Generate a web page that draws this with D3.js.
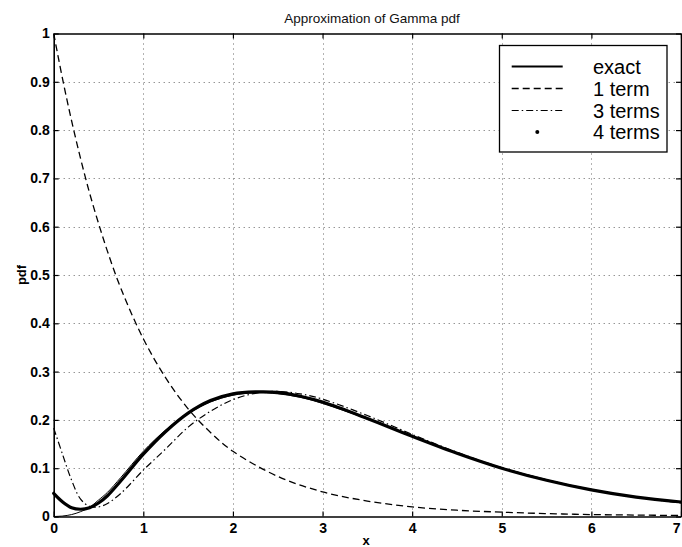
<!DOCTYPE html>
<html>
<head>
<meta charset="utf-8">
<script src="https://cdn.jsdelivr.net/npm/d3@7/dist/d3.min.js"></script>
<style>
  html, body { margin: 0; padding: 0; background: #fff; }
  svg { display: block; font-family: "Liberation Sans", Arial, Helvetica, sans-serif; }
</style>
</head>
<body>
<svg id="chart" width="682" height="547"></svg>
<script>
// ---- data ----
const xTicks = [0, 1, 2, 3, 4, 5, 6, 7];
const xTickLabels = ["0", "1", "2", "3", "4", "5", "6", "7"];
const yTicks = [0, 0.1, 0.2, 0.3, 0.4, 0.5, 0.6, 0.7, 0.8, 0.9, 1];
const yTickLabels = ["0", "0.1", "0.2", "0.3", "0.4", "0.5", "0.6", "0.7", "0.8", "0.9", "1"];

const xs = [0, 0.1, 0.2, 0.3, 0.4, 0.5, 0.6, 0.75, 1, 1.25, 1.5, 1.75, 2, 2.25, 2.5, 2.75, 3, 3.5, 4, 4.5, 5, 5.5, 6, 6.5, 7];
const exactY = [0, 0.001, 0.004, 0.010, 0.019, 0.034, 0.050, 0.081, 0.135, 0.179, 0.213, 0.237, 0.251, 0.256, 0.254, 0.247, 0.234, 0.202, 0.166, 0.131, 0.101, 0.076, 0.056, 0.040, 0.029];
const terms4Y = [0.048, 0.030, 0.018, 0.015, 0.018, 0.028, 0.043, 0.074, 0.129, 0.176, 0.214, 0.240, 0.254, 0.258, 0.257, 0.249, 0.237, 0.203, 0.166, 0.131, 0.100, 0.075, 0.055, 0.040, 0.030];
const terms3Y = [0.183, 0.128, 0.075, 0.036, 0.021, 0.020, 0.027, 0.048, 0.096, 0.140, 0.185, 0.218, 0.242, 0.255, 0.259, 0.254, 0.243, 0.209, 0.170, 0.133, 0.101, 0.076, 0.055, 0.040, 0.028];

const xs1 = [0, 0.1, 0.2, 0.3, 0.4, 0.5, 0.6, 0.75, 1, 1.25, 1.5, 1.75, 2, 2.5, 3, 3.5, 4, 4.5, 5, 5.5, 6, 6.5, 7];
const term1Y = [1.0, 0.905, 0.819, 0.741, 0.670, 0.607, 0.549, 0.472, 0.368, 0.287, 0.223, 0.174, 0.135, 0.083, 0.051, 0.032, 0.020, 0.013, 0.009, 0.006, 0.004, 0.003, 0.002];

const legendLabels = ["exact", "1 term", "3 terms", "4 terms"];
const titleText = "Approximation of Gamma pdf";
const xLabelText = "x";
const yLabelText = "pdf";

// ---- layout ----
const L = 53.7, R = 681, T = 33.5, B = 516.5;
const svg = d3.select("#chart");
const x = d3.scaleLinear().domain([0, 7]).range([L, R]);
const y = d3.scaleLinear().domain([0, 1]).range([B, T]);

// grid
const grid = svg.append("g").attr("stroke", "#666").attr("stroke-width", 1).attr("stroke-dasharray", "1,4");
grid.selectAll("line.gx").data(xTicks.slice(1, -1)).join("line")
  .attr("x1", d => Math.round(x(d)) + 0.5).attr("x2", d => Math.round(x(d)) + 0.5)
  .attr("y1", T).attr("y2", B);
grid.selectAll("line.gy").data(yTicks.slice(1, -1)).join("line")
  .attr("y1", d => Math.round(y(d)) + 0.5).attr("y2", d => Math.round(y(d)) + 0.5)
  .attr("x1", L).attr("x2", R);

// axes
const fmtX = d => xTickLabels[xTicks.indexOf(d)];
const fmtY = d => yTickLabels[yTicks.indexOf(d)];
const gx = svg.append("g").attr("transform", `translate(0,${B})`)
  .call(d3.axisBottom(x).tickValues(xTicks).tickFormat(fmtX).tickSizeInner(-5).tickSizeOuter(0).tickPadding(7));
const gy = svg.append("g").attr("transform", `translate(${L},0)`)
  .call(d3.axisLeft(y).tickValues(yTicks).tickFormat(fmtY).tickSizeInner(-5).tickSizeOuter(0).tickPadding(4));
const gt = svg.append("g").attr("transform", `translate(0,${T})`)
  .call(d3.axisTop(x).tickValues(xTicks).tickFormat("").tickSizeInner(-5).tickSizeOuter(0));
const gr = svg.append("g").attr("transform", `translate(${R},0)`)
  .call(d3.axisRight(y).tickValues(yTicks).tickFormat("").tickSizeInner(-5).tickSizeOuter(0));
[gx, gy, gt, gr].forEach(g => {
  g.select(".domain").attr("stroke", "#000").attr("stroke-width", 1.6);
  g.selectAll(".tick line").attr("stroke", "#000").attr("stroke-width", 1.2);
  g.selectAll("text").attr("fill", "#000").attr("font-size", "14px").attr("font-weight", "bold")
    .attr("font-family", "'Liberation Sans', Arial, sans-serif");
});
// keep the last x tick label inside the picture
gx.selectAll(".tick text").filter(d => d === 7).attr("text-anchor", "end").attr("dx", "-1");

// curves
const mk = (xv) => d3.line().x((d, i) => x(xv[i])).y(d => y(d)).curve(d3.curveCatmullRom.alpha(0.5));
svg.append("path").datum(term1Y).attr("d", mk(xs1)).attr("fill", "none")
  .attr("stroke", "#000").attr("stroke-width", 1.3).attr("stroke-dasharray", "7,4");
svg.append("path").datum(terms3Y).attr("d", mk(xs)).attr("fill", "none")
  .attr("stroke", "#000").attr("stroke-width", 1.2).attr("stroke-dasharray", "7,3,1.5,3");
svg.append("path").datum(terms4Y).attr("d", mk(xs)).attr("fill", "none")
  .attr("stroke", "#000").attr("stroke-width", 3.2).attr("stroke-linecap", "round");
svg.append("path").datum(exactY).attr("d", mk(xs)).attr("fill", "none")
  .attr("stroke", "#000").attr("stroke-width", 1);

// title & labels
svg.append("text").attr("x", 372).attr("y", 23).attr("text-anchor", "middle")
  .attr("font-size", "13.5px").attr("fill", "#111").text(titleText);
svg.append("text").attr("x", 366).attr("y", 545).attr("text-anchor", "middle")
  .attr("font-size", "13px").attr("font-weight", "bold").text(xLabelText);
svg.append("text").attr("transform", `translate(26,${(T + B) / 2}) rotate(-90)`).attr("text-anchor", "middle")
  .attr("font-size", "13px").attr("font-weight", "bold").text(yLabelText);

// legend
const lg = svg.append("g");
lg.append("rect").attr("x", 499.5).attr("y", 45.5).attr("width", 167.5).attr("height", 106.5)
  .attr("fill", "#fff").attr("stroke", "#000").attr("stroke-width", 1.3);
const rowY = [66.5, 88.5, 110.5, 132];
const styles = [
  { dash: null, w: 1.8 },
  { dash: "7,4", w: 1.3 },
  { dash: "7,3,1.5,3", w: 1.2 },
];
styles.forEach((s, i) => {
  const ln = lg.append("line").attr("x1", 511.7).attr("x2", 562.7).attr("y1", rowY[i]).attr("y2", rowY[i])
    .attr("stroke", "#000").attr("stroke-width", s.w);
  if (s.dash) ln.attr("stroke-dasharray", s.dash);
});
lg.append("circle").attr("cx", 537.3).attr("cy", rowY[3]).attr("r", 2).attr("fill", "#000");
lg.selectAll("text.lt").data(legendLabels).join("text")
  .attr("x", 593).attr("y", (d, i) => rowY[i] + 7)
  .attr("font-size", "20px").attr("fill", "#000").text(d => d);
</script>
</body>
</html>
